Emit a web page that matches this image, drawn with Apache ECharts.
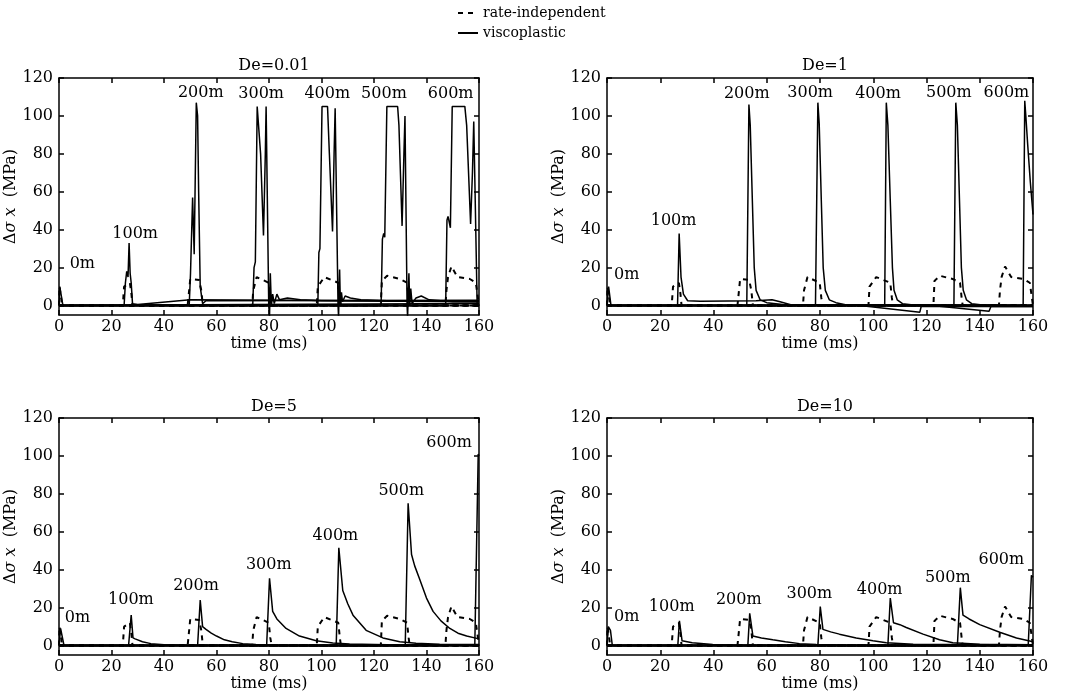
<!DOCTYPE html>
<html>
<head>
<meta charset="utf-8">
<title>stress pulses</title>
<script src="https://cdn.jsdelivr.net/npm/echarts@6/dist/echarts.min.js"></script>
<style>
  html, body { margin: 0; padding: 0; background: #fff; }
  #chart { width: 1072px; height: 698px; }
</style>
</head>
<body>
<div id="chart"></div>
<script>
// station names (curve labels)
const stations = ['0m', '100m', '200m', '300m', '400m', '500m', '600m'];
const panelTitles = ['De=0.01', 'De=1', 'De=5', 'De=10'];
const yTicks = [0, 20, 40, 60, 80, 100, 120];

// rate-independent response, same in every panel  [time ms, MPa]
const riCurves = [
  [[0, 0], [0.2, 10], [0.7, 9], [1.2, 0], [160, 0]],
  [[0, 0], [24.3, 0], [24.8, 10], [25.3, 11], [27, 12], [27.6, 6], [28, 0], [160, 0]],
  [[0, 0], [49, 0], [49.4, 5.5], [50, 14], [53.4, 13.5], [54.2, 8], [54.8, 0], [160, 0]],
  [[0, 0], [73.6, 0], [74, 8], [75.3, 15], [79.9, 12], [80.5, 4], [81, 0], [160, 0]],
  [[0, 0], [98.2, 0], [98.6, 10], [101.1, 15], [106.4, 12], [107, 4], [107.4, 0], [160, 0]],
  [[0, 0], [122.6, 0], [123, 13], [125, 15.7], [129.8, 14], [132.6, 12], [133.2, 4], [133.6, 0], [160, 0]],
  [[0, 0], [147.2, 0], [147.6, 8], [148.2, 15], [149.5, 20.6], [151.8, 15], [156.5, 14], [158.8, 12], [159.6, 4], [160, 0]]
];

// viscoplastic, De=0.01
const vpDe001 = [
  [[0, 0], [0.3, 10], [0.8, 9], [1.5, 0], [30, 0.3], [160, 1]],
  [[0, 0], [24.8, 0], [25.3, 12], [25.8, 18], [26.3, 15], [26.7, 33], [27.1, 17], [27.5, 12], [28, 1], [30, 0.5], [50, 3], [160, 2.3]],
  [[0, 0], [49.6, 0], [50.1, 17], [50.4, 16], [50.9, 57], [51.5, 27], [51.8, 27], [52.3, 107], [52.8, 100], [53.2, 60], [53.8, 10], [54.7, 1], [56, 2.5], [160, 2.8]],
  [[0, 0], [73.8, 0], [74.3, 20], [74.8, 23], [75.5, 105], [76.2, 105], [76.8, 80], [77.9, 37], [78.6, 80], [78.9, 105], [79.3, 105], [79.9, 0], [80.2, -6], [80.5, 17], [80.9, 0], [81.4, 6], [82, 1], [83, 6], [84, 3], [87, 4], [92, 3], [100, 2.5], [160, 2]],
  [[0, 0], [98.6, 0], [99, 28], [99.4, 30], [100.2, 105], [102.3, 105], [103, 80], [104.2, 39], [104.8, 80], [105.2, 104], [105.6, 104], [106.3, 0], [106.5, -6], [106.9, 19], [107.2, 0], [107.6, 7], [108, 2], [109, 5], [111, 4], [115, 3], [125, 2.5], [160, 2.5]],
  [[0, 0], [122.7, 0], [123.2, 35], [123.7, 38], [124.1, 36], [124.9, 105], [129, 105], [129.5, 95], [130.7, 42], [131.4, 80], [131.8, 100], [132.6, 0], [132.8, -6], [133.3, 17], [133.6, 0], [134, 9], [134.5, 1], [136, 4], [138, 5], [141, 3], [150, 2], [160, 2]],
  [[0, 0], [147.3, 0], [147.8, 45], [148.2, 47], [149.1, 41], [149.8, 105], [154.6, 105], [155.3, 95], [156.8, 43], [157.5, 70], [158, 97], [158.5, 60], [159.3, 0], [160, 0]]
];

// viscoplastic, De=1
const vpDe1 = [
  [[0, 0], [0.6, 10], [1.5, 0], [160, 0]],
  [[0, 0], [26.5, 0], [27.1, 38], [27.8, 15], [28.7, 6], [30.3, 2.5], [35, 2.3], [56, 2.5], [62, 3], [65, 2], [70, 0], [160, 0]],
  [[0, 0], [52.5, 0], [53.3, 106], [53.8, 95], [54.6, 55], [55.3, 20], [56, 8], [57.5, 3], [60, 1.5], [66, 0.5], [160, 0]],
  [[0, 0], [78.3, 0], [79.2, 107], [79.7, 96], [80.5, 55], [81.2, 20], [82, 8], [83.5, 3], [86, 1.5], [90, 0.3], [95, 0], [117.5, -3.5], [118, -0.5], [160, -0.5]],
  [[0, 0], [104.3, 0], [104.9, 107], [105.5, 95], [106.4, 55], [107.2, 20], [107.8, 8], [109, 3], [111, 1], [115, 0.3], [122, 0], [143.5, -3], [144.2, -0.5], [160, -0.5]],
  [[0, 0], [130.3, 0], [131, 107], [131.6, 95], [132.4, 55], [133.1, 20], [133.8, 8], [135, 3], [137, 1], [141, 0.3], [160, 0]],
  [[0, 0], [156.3, 0], [156.9, 108], [157.3, 100], [158, 85], [159, 65], [160, 48]]
];

// viscoplastic, De=5
const vpDe5 = [
  [[0, 0], [0.6, 9], [1.2, 8.5], [1.9, 0], [160, 0]],
  [[0, 0], [26.5, 0], [27.5, 16], [28.2, 4], [29, 3.5], [31.8, 2], [35, 1], [40, 0.4], [48, 0], [160, 0]],
  [[0, 0], [52.8, 0], [53.8, 24], [54.7, 10], [56, 8.5], [58, 6.5], [60, 5], [63, 3], [66, 2], [70, 1], [75, 0.5], [85, 0], [160, 0]],
  [[0, 0], [79.1, 0], [80.2, 35.5], [81.4, 18], [83, 14], [86.5, 9], [91.6, 5], [98, 2.5], [104.3, 1.3], [110.7, 0.8], [125, 0.4], [160, 0.3]],
  [[0, 0], [105.6, 0], [106.6, 51.5], [108.1, 29], [110, 22], [112, 16], [117, 8], [123.4, 4], [129.8, 2], [136, 1.2], [145, 0.7], [160, 0.5]],
  [[0, 0], [131.9, 0], [133, 75], [134.3, 48], [135.5, 42], [137.4, 35], [140, 25], [142.5, 18], [145.5, 13], [148.9, 9], [152, 6.5], [155.3, 5], [160, 3.5]],
  [[0, 0], [158.4, 0], [159.7, 101], [160, 100]]
];

// viscoplastic, De=10
const vpDe10 = [
  [[0, 0], [0.5, 10], [1.3, 8], [2, 0], [160, 0]],
  [[0, 0], [26.6, 0], [27.2, 13], [28.2, 2.5], [32, 1.5], [39.7, 0.5], [50, 0], [160, 0]],
  [[0, 0], [52.9, 0], [53.6, 17], [54.8, 5], [58, 4], [62.3, 3], [67, 2], [72.3, 1], [78.6, 0.5], [90, 0], [160, 0]],
  [[0, 0], [79.2, 0], [80.1, 20.5], [81.1, 8.5], [84, 7.2], [87.3, 6], [93.6, 4], [99.9, 2.5], [104.9, 1.5], [115, 0.7], [160, 0.3]],
  [[0, 0], [105.5, 0], [106.4, 25], [107.6, 12], [110, 11], [112.4, 9.5], [118.7, 6], [124.9, 3], [129.9, 1.5], [140, 0.7], [160, 0.4]],
  [[0, 0], [131.6, 0], [132.7, 30.5], [133.7, 16], [136, 14], [140, 11], [147.5, 7], [153.8, 4], [160, 2]],
  [[0, 0], [158.2, 0], [159.4, 37], [160, 36]]
];

// where the station labels sit, [time, MPa]
const labelsDe001 = [[8.9, 21.8], [29, 37.7], [54, 112], [77, 111.6], [102.2, 111.6], [123.8, 111.6], [149.2, 111.6]];
const labelsDe1 = [[7.4, 16.2], [25, 44.7], [52.5, 111.6], [76.3, 112], [101.8, 111.6], [128.4, 112], [150, 112]];
const labelsDe5 = [[7, 14.4], [27.4, 24.3], [52.2, 31.5], [79.9, 42.7], [105.3, 57.8], [130.4, 81.4], [148.6, 106.8]];
const labelsDe10 = [[7.4, 15], [24.3, 20.6], [49.5, 24.1], [76, 27.1], [102.4, 29.4], [128, 35.5], [148.1, 45.1]];

const vpByPanel = [vpDe001, vpDe1, vpDe5, vpDe10];
const labelsByPanel = [labelsDe001, labelsDe1, labelsDe5, labelsDe10];

const FONT = 'DejaVu Serif';
const txt = { fontFamily: FONT, fontSize: 16, color: '#000' };
const black = { color: '#000', width: 1.5 };

// panel boxes
const grids = [
  { left: 59, top: 78, width: 420, height: 237 },
  { left: 607, top: 78, width: 426, height: 237 },
  { left: 59, top: 418, width: 420, height: 237 },
  { left: 607, top: 418, width: 426, height: 237 }
];

const xAxes = [];
const yAxes = [];
const series = [];

grids.forEach((g, i) => {
  // bottom + mirrored top
  xAxes.push({
    gridIndex: i, type: 'value', min: 0, max: 160, interval: 20,
    name: 'time (ms)', nameLocation: 'middle', nameGap: 20, nameTextStyle: txt,
    axisLine: { onZero: false, lineStyle: black },
    axisTick: { inside: true, length: 5, lineStyle: black },
    axisLabel: Object.assign({ margin: 4 }, txt),
    splitLine: { show: false }
  });
  xAxes.push({
    gridIndex: i, type: 'value', position: 'top', min: 0, max: 160, interval: 20,
    axisLine: { onZero: false, lineStyle: black },
    axisTick: { inside: true, length: 5, lineStyle: black },
    axisLabel: { show: false },
    splitLine: { show: false }
  });
  // left + mirrored right
  yAxes.push({
    gridIndex: i, type: 'value', min: -5, max: 120,
    name: '{n|Δ}{i|σ x}{n|  (MPa)}', nameLocation: 'middle', nameGap: 35, nameRotate: 90,
    nameTextStyle: { rich: { n: txt, i: Object.assign({ fontStyle: 'italic' }, txt) } },
    axisLine: { onZero: false, lineStyle: black },
    axisTick: { inside: true, length: 5, lineStyle: black, customValues: yTicks },
    axisLabel: Object.assign({ margin: 6, customValues: yTicks }, txt),
    splitLine: { show: false }
  });
  yAxes.push({
    gridIndex: i, type: 'value', position: 'right', min: -5, max: 120,
    axisLine: { onZero: false, lineStyle: black },
    axisTick: { inside: true, length: 5, lineStyle: black, customValues: yTicks },
    axisLabel: { show: false },
    splitLine: { show: false }
  });

  stations.forEach((st, k) => {
    series.push({
      type: 'line', name: 'rate-independent',
      xAxisIndex: i * 2, yAxisIndex: i * 2,
      data: riCurves[k],
      symbol: 'none', silent: true,
      itemStyle: { color: '#000' },
      lineStyle: { color: '#000', width: 2, type: [5, 5] }
    });
  });
  stations.forEach((st, k) => {
    series.push({
      type: 'line', name: 'viscoplastic',
      xAxisIndex: i * 2, yAxisIndex: i * 2,
      data: vpByPanel[i][k],
      symbol: 'none', silent: true,
      itemStyle: { color: '#000' },
      lineStyle: { color: '#000', width: 1.5 }
    });
  });
  // station labels
  series.push({
    type: 'scatter',
    xAxisIndex: i * 2, yAxisIndex: i * 2,
    symbolSize: 0, silent: true, z: 5,
    itemStyle: { color: '#000' },
    data: labelsByPanel[i].map((p, k) => ({ value: p, name: stations[k] })),
    label: Object.assign({
      show: true, position: [0, 0], align: 'center', verticalAlign: 'middle',
      formatter: '{b}', textBorderWidth: 0, opacity: 1
    }, txt)
  });
});

const chart = echarts.init(document.getElementById('chart'));

const option = {
  animation: false,
  backgroundColor: '#fff',
  title: panelTitles.map((t, i) => ({
    text: t,
    left: grids[i].left + grids[i].width / 2,
    top: i < 2 ? 53 : 394,
    textAlign: 'center',
    textStyle: Object.assign({}, txt, { fontWeight: 'normal' })
  })),
  legend: {
    data: ['rate-independent', 'viscoplastic'],
    orient: 'vertical',
    left: 452, top: 1,
    itemGap: 6, itemWidth: 20, itemHeight: 10,
    selectedMode: false,
    itemStyle: { opacity: 0 },
    textStyle: { fontFamily: FONT, fontSize: 14, color: '#000' }
  },
  grid: grids,
  xAxis: xAxes,
  yAxis: yAxes,
  series: series
};

chart.setOption(option);
</script>
</body>
</html>
